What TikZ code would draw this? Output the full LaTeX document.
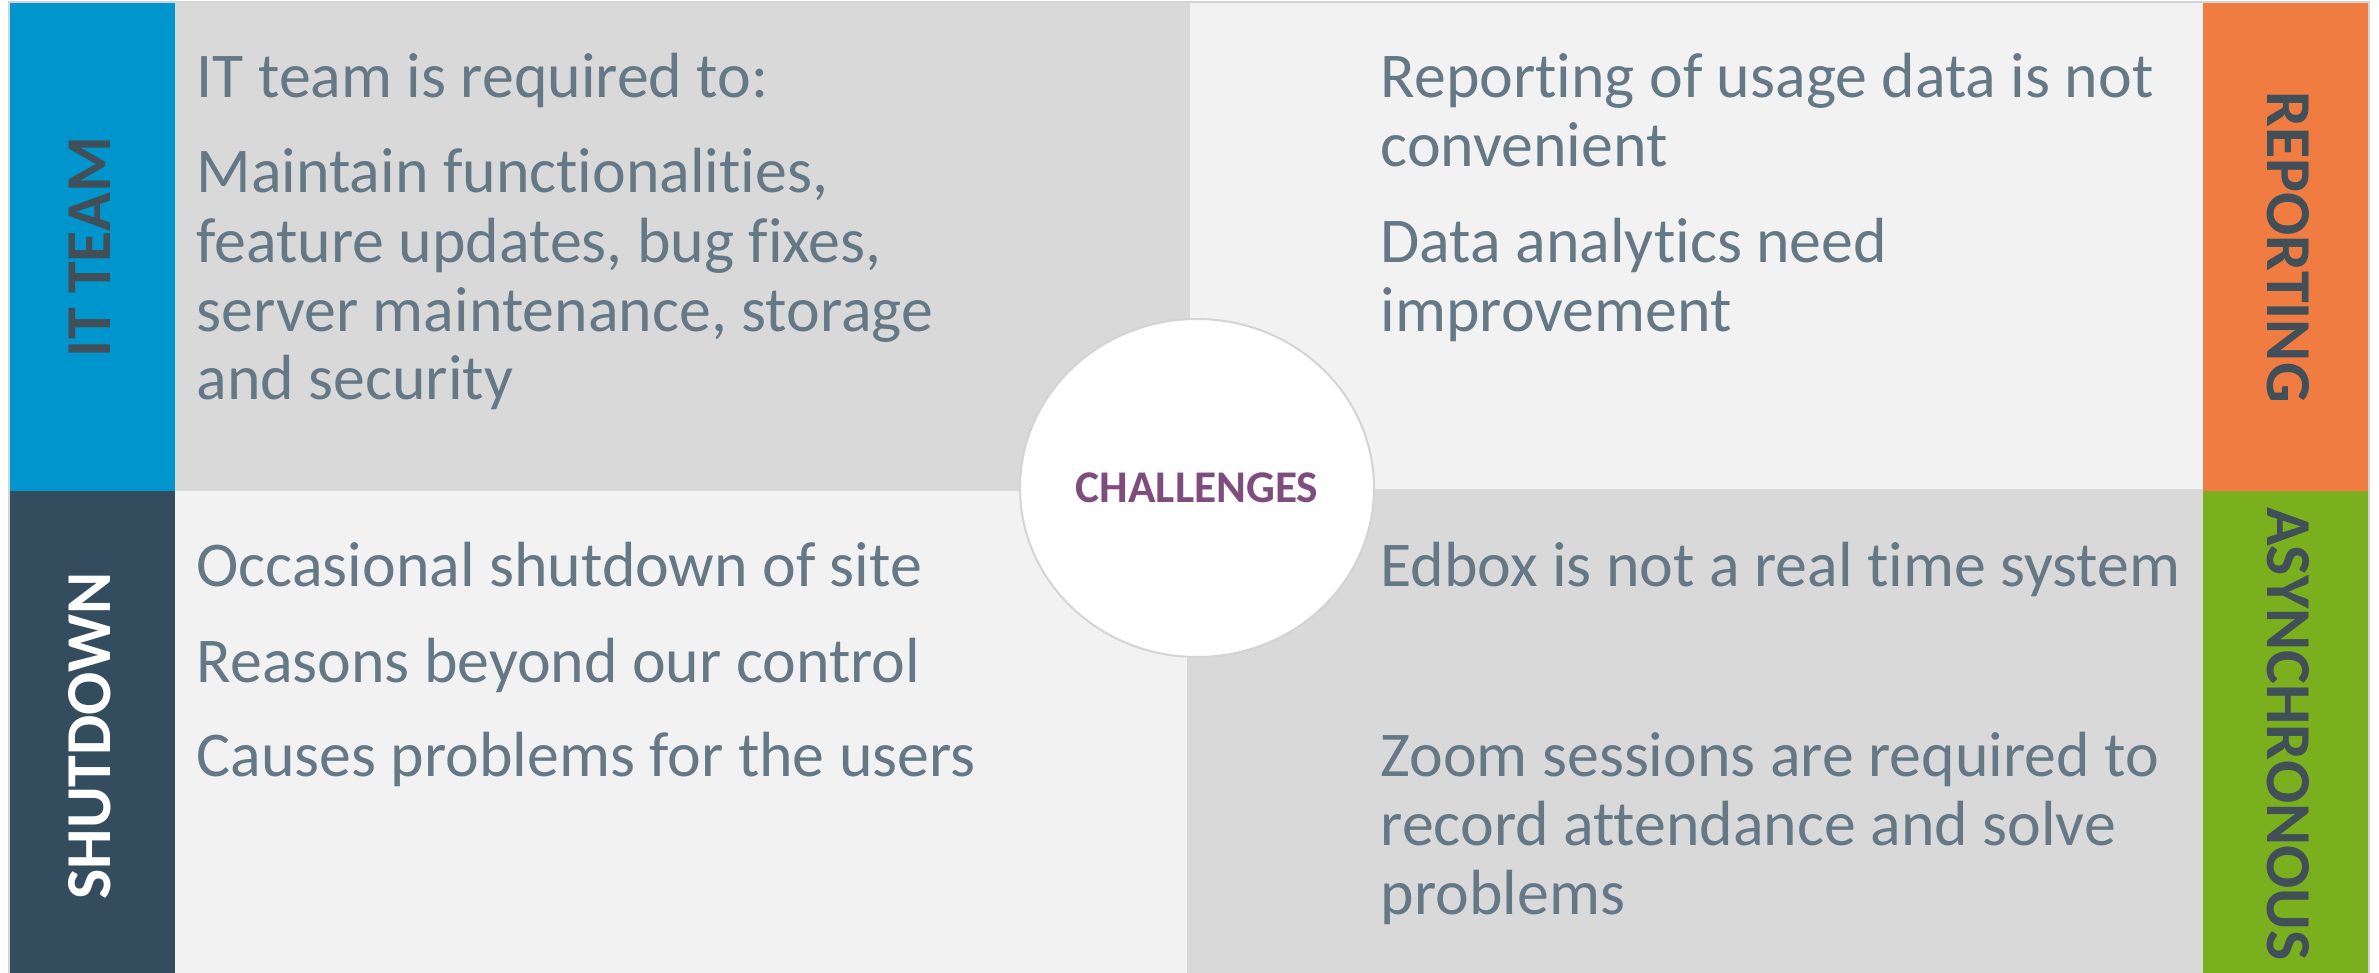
\documentclass[tikz,border=0pt]{standalone}
\usepackage{fontspec}
\setmainfont{Carlito}[Ligatures=NoCommon]
\usetikzlibrary{shapes.geometric}
\definecolor{itblue}{HTML}{0095CD}
\definecolor{sddark}{HTML}{334D5E}
\definecolor{reporange}{HTML}{F07C42}
\definecolor{asgreen}{HTML}{7AB01E}
\definecolor{quadgray}{HTML}{D9D9D9}
\definecolor{quadlight}{HTML}{F2F2F2}
\definecolor{bodytext}{HTML}{647886}
\definecolor{labeldark}{HTML}{414F59}
\definecolor{chpurple}{HTML}{7F4D7D}
\definecolor{framegray}{HTML}{D4D4D4}
\begin{document}
\begin{tikzpicture}[x=0.3pt,y=-0.3pt,
  line/.style={anchor=base west, inner sep=0pt, text=bodytext, font=\fontsize{19.15}{20}\selectfont},
  sidelabel/.style={inner sep=0pt, font=\bfseries\fontsize{19.2}{19}\selectfont}]
\useasboundingbox (0,0) rectangle (2379,973);
\fill[white] (0,0) rectangle (2379,973);
% quadrants
\fill[quadgray] (175,3) rectangle (1190,491);
\fill[quadlight] (1190,3) rectangle (2203,491);
\fill[quadlight] (175,491) rectangle (1187,973);
\fill[quadgray] (1187,489) rectangle (2203,973);
% side bars
\fill[itblue] (10,3) rectangle (175,491);
\fill[sddark] (10,491) rectangle (175,973);
\fill[reporange] (2203,3) rectangle (2368,491);
\fill[asgreen] (2203,491) rectangle (2368,973);
\draw[framegray, line width=0.6pt] (9,2) rectangle (2369,985);
% side labels
\node[sidelabel, rotate=90, text=labeldark] (itteam) at (90,247) {IT TEAM};
\node[sidelabel, rotate=90, text=white] (shutdown) at (90,736) {SHUTDOWN};
\node[sidelabel, rotate=-90, text=labeldark] (reporting) at (2288,247) {REPORTING};
\node[sidelabel, rotate=-90, text=labeldark] (async) at (2288,734) {ASYNCHRONOUS};
% center
\node[ellipse, draw=framegray, line width=0.6pt, fill=white, minimum width=106.2pt, minimum height=101.4pt, inner sep=0pt,
  text=chpurple, font=\bfseries\fontsize{13.6}{14}\selectfont] (challenges) at (1197,488) {CHALLENGES};
% top-left text
\node[line] (tl1) at (196,98) {IT team is required to:};
\node[line] (tl2) at (196,193) {Maintain functionalities,};
\node[line] (tl3) at (196,263) {feature updates, bug fixes,};
\node[line] (tl4) at (196,332) {server maintenance, storage};
\node[line] (tl5) at (196,400) {and security};
% top-right text
\node[line] (tr1) at (1380,98) {Reporting of usage data is not};
\node[line] (tr2) at (1380,167) {convenient};
\node[line] (tr3) at (1380,263) {Data analytics need};
\node[line] (tr4) at (1380,332) {improvement};
% bottom-left text
\node[line] (bl1) at (196,586) {Occasional shutdown of site};
\node[line] (bl2) at (196,682) {Reasons beyond our control};
\node[line] (bl3) at (196,776) {Causes problems for the users};
% bottom-right text
\node[line] (br1) at (1380,586) {Edbox is not a real time system};
\node[line] (br2) at (1380,776) {Zoom sessions are required to};
\node[line] (br3) at (1380,845) {record attendance and solve};
\node[line] (br4) at (1380,914) {problems};
\end{tikzpicture}
\end{document}
